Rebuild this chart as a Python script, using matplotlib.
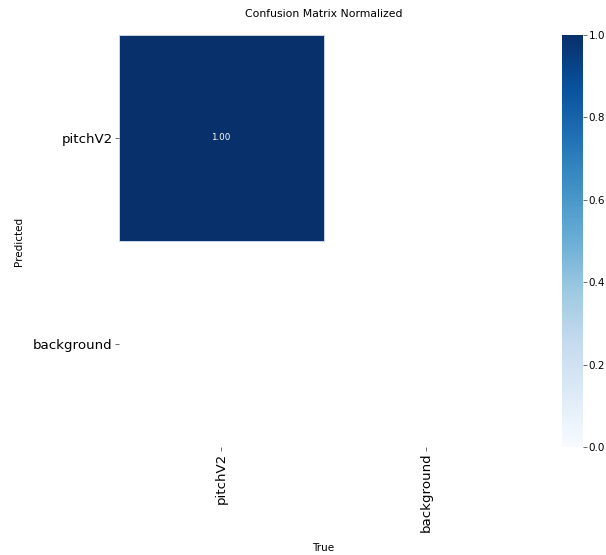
import numpy as np
import matplotlib
matplotlib.use('Agg')
import matplotlib.pyplot as plt

# --- data ---
true_labels = ['pitchV2', 'background']
pred_labels = ['pitchV2', 'background']
# rows = predicted, cols = true; empty cells are NaN (drawn blank)
row_pitch = [1.00, np.nan]
row_background = [np.nan, np.nan]

matrix = np.array([row_pitch, row_background])

fig = plt.figure(figsize=(6.06, 5.55), dpi=100)
ax = fig.add_axes([118.5 / 606, 1 - 447 / 555, 410 / 606, 412 / 555])
cax = fig.add_axes([562 / 606, 1 - 447 / 555, 20.5 / 606, 412 / 555])

masked = np.ma.masked_invalid(matrix)
mesh = ax.pcolormesh(masked, cmap='Blues', vmin=0.0, vmax=1.0, linewidth=0.5)
# thin light edge only around filled cells
edges = ['#c8d4e4' if not np.isnan(v) else 'none' for v in matrix.ravel()]
mesh.set_edgecolors(edges)
ax.set_xlim(0, 2)
ax.set_ylim(2, 0)

for i in range(matrix.shape[0]):
    for j in range(matrix.shape[1]):
        if not np.isnan(matrix[i, j]):
            ax.text(j + 0.5, i + 0.5, f'{matrix[i, j]:.2f}', ha='center', va='center',
                    color='white', fontsize=6.3)

ax.set_xticks(np.arange(len(true_labels)) + 0.5)
ax.set_yticks(np.arange(len(pred_labels)) + 0.5)
ax.set_xticklabels(true_labels, rotation=90, fontsize=9.6)
ax.set_yticklabels(pred_labels, rotation=0, fontsize=9.6)
ax.tick_params(length=3, width=0.6, color='#555555', pad=1.2)
for s in ax.spines.values():
    s.set_visible(False)

ax.set_xlabel('True', fontsize=7.5, labelpad=7.5)
ax.set_ylabel('Predicted', fontsize=7.5, labelpad=6.5)
ax.set_title('Confusion Matrix Normalized', fontsize=7.8, pad=13)

cb = fig.colorbar(mesh, cax=cax)
cb.outline.set_visible(False)
cb.set_ticks([0.0, 0.2, 0.4, 0.6, 0.8, 1.0])
cax.tick_params(labelsize=7.5, length=3, width=0.6, color='#555555', pad=1.2)

fig.savefig('out.png', dpi=100, facecolor='white')
